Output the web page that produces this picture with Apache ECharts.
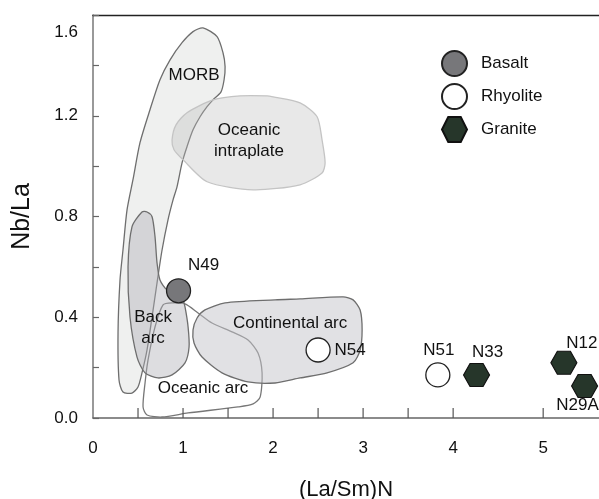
<!DOCTYPE html>
<html>
<head>
<meta charset="utf-8">
<script src="https://cdn.jsdelivr.net/npm/echarts@6/dist/echarts.min.js"></script>
<style>html,body{margin:0;padding:0;background:#fff;}#c{width:599px;height:499px;}</style>
</head>
<body>
<div id="c"></div>
<script>
// ---- data ----
const basalt = [[0.95, 0.505, 'N49']];
const rhyolite = [[2.50, 0.270, 'N54'], [3.83, 0.171, 'N51']];
const granite = [[4.26, 0.171, 'N33'], [5.23, 0.219, 'N12'], [5.46, 0.127, 'N29A']];

const xLabelValues = [0, 1, 2, 3, 4, 5];
const xTickValues = [0.5, 1, 1.5, 2, 2.5, 3, 3.5, 4, 5];
const yLabelValues = [0, 0.4, 0.8, 1.2, 1.6];

// discrimination fields (La/Sm)N , Nb/La outlines
const morbField = [[1.222,1.549],[1.378,1.514],[1.444,1.450],[1.467,1.395],[1.456,1.343],[1.422,1.295],[1.333,1.263],[1.267,1.236],[1.189,1.196],[1.111,1.144],[1.044,1.077],[0.989,1.013],[0.933,0.918],[0.889,0.866],[0.833,0.787],[0.767,0.667],[0.711,0.536],[0.656,0.401],[0.600,0.270],[0.544,0.179],[0.500,0.123],[0.433,0.099],[0.333,0.103],[0.289,0.151],[0.278,0.338],[0.300,0.548],[0.333,0.667],[0.378,0.826],[0.444,0.946],[0.522,1.093],[0.633,1.224],[0.744,1.343],[0.856,1.422],[0.989,1.490],[1.111,1.534]];
const intraplateField = [[0.878,1.104],[0.922,1.164],[1.044,1.212],[1.333,1.263],[1.633,1.279],[1.933,1.279],[2.000,1.275],[2.300,1.251],[2.489,1.196],[2.544,1.104],[2.578,1.013],[2.544,0.973],[2.300,0.926],[1.778,0.906],[1.267,0.938],[1.000,1.025],[0.900,1.065]];
const backArcField = [[0.544,0.818],[0.600,0.818],[0.656,0.799],[0.689,0.719],[0.711,0.616],[0.744,0.548],[0.822,0.509],[0.944,0.497],[1.000,0.469],[1.022,0.441],[1.056,0.362],[1.067,0.282],[1.022,0.219],[0.878,0.171],[0.722,0.159],[0.578,0.179],[0.489,0.242],[0.411,0.401],[0.389,0.600],[0.433,0.759]];
const contArcField = [[1.111,0.350],[1.156,0.397],[1.244,0.429],[1.467,0.457],[2.022,0.469],[2.300,0.473],[2.778,0.481],[2.889,0.469],[2.967,0.429],[2.989,0.350],[2.967,0.270],[2.889,0.219],[2.600,0.179],[2.300,0.159],[2.022,0.139],[1.722,0.143],[1.433,0.179],[1.211,0.242],[1.122,0.298]];
const oceanicArcField = [[0.878,0.457],[1.022,0.453],[1.167,0.417],[1.322,0.377],[1.544,0.342],[1.722,0.310],[1.833,0.258],[1.878,0.179],[1.856,0.083],[1.778,0.056],[1.611,0.044],[1.056,0.020],[0.767,0.004],[0.600,0.012],[0.556,0.044],[0.578,0.139],[0.611,0.230],[0.689,0.362],[0.778,0.449]];

const fieldLabels = [
  [1.122, 1.359, 'MORB'],
  [1.733, 1.100, 'Oceanic\nintraplate'],
  [0.667, 0.358, 'Back\narc'],
  [2.189, 0.377, 'Continental arc'],
  [1.222, 0.119, 'Oceanic arc']
];

// ---- styles ----
const FONT = '"Liberation Sans", Arial, Helvetica, sans-serif';
const hexPath = 'path://M0,50 L25,0 L75,0 L100,50 L75,100 L25,100 Z';
const labelOffsets = { N49:[25,-25], N54:[32,0], N51:[1,-25], N33:[11,-23], N12:[18,-20], N29A:[-7,19] };

function fieldSeries(pts, fill, stroke, z) {
  return {
    type: 'custom', coordinateSystem: 'cartesian2d', silent: true, z: z,
    data: pts,
    renderItem: function (params, api) {
      if (params.dataIndex !== 0) return null;
      const cs = pts.map(p => api.coord(p));
      return { type: 'polygon', shape: { points: cs, smooth: 0.25 },
        style: { fill: fill, stroke: stroke, lineWidth: 1.3 } };
    }
  };
}

function pointData(arr) {
  return arr.map(d => ({
    value: [d[0], d[1]], name: d[2],
    label: { show: true, formatter: d[2], position: 'inside', offset: labelOffsets[d[2]],
      color: '#111', fontSize: 17, fontFamily: FONT }
  }));
}

const chart = echarts.init(document.getElementById('c'), null, { renderer: 'canvas' });
chart.setOption({
  animation: false,
  backgroundColor: '#fff',
  grid: { left: 93, right: 0, top: 15, bottom: 81, containLabel: false, outerBoundsMode: 'none' },
  xAxis: [{
    type: 'value', min: 0, max: 5.62, interval: 1,
    name: '(La/Sm)N', nameLocation: 'middle', nameGap: 61,
    nameTextStyle: { fontSize: 22, color: '#111', fontFamily: FONT },
    axisLine: { show: true, lineStyle: { color: '#666', width: 1.5 } },
    axisTick: { show: false },
    splitLine: { show: false },
    axisLabel: { margin: 22, fontSize: 17, color: '#111', fontFamily: FONT, showMaxLabel: false,
      formatter: v => (xLabelValues.indexOf(Math.round(v * 100) / 100) >= 0 ? String(v) : '') }
  }, {
    type: 'value', position: 'top', min: 0, max: 5.62,
    axisLine: { show: true, onZero: false, lineStyle: { color: '#222', width: 1.3 } },
    axisTick: { show: false }, axisLabel: { show: false }, splitLine: { show: false }
  }],
  yAxis: {
    type: 'value', min: 0, max: 1.6, interval: 0.2,
    name: 'Nb/La', nameLocation: 'middle', nameGap: 58,
    nameTextStyle: { fontSize: 25, color: '#111', fontFamily: FONT },
    axisLine: { show: true, lineStyle: { color: '#777', width: 1.5 } },
    axisTick: { show: true, inside: true, length: 6, lineStyle: { color: '#666', width: 1.2 } },
    splitLine: { show: false },
    axisLabel: { margin: 15, fontSize: 17, color: '#111', fontFamily: FONT,
      formatter: function (v) {
        const r = Math.round(v * 10) / 10;
        const hit = yLabelValues.some(t => Math.abs(t - r) < 1e-6);
        if (!hit) return '';
        const s = r.toFixed(1);
        return Math.abs(r - 1.6) < 1e-6 ? '{top|' + s + '}' : s;
      },
      rich: { top: { fontSize: 17, color: '#111', fontFamily: FONT, padding: [34, 0, 0, 0] } }
    }
  },
  legend: {
    orient: 'vertical', left: 441, top: 50, padding: 0,
    itemWidth: 25, itemHeight: 25, itemGap: 6,
    textStyle: { fontSize: 17, color: '#111', fontFamily: FONT, padding: [0, 0, 0, 9] },
    data: ['Basalt', 'Rhyolite', 'Granite']
  },
  series: [
    fieldSeries(morbField, 'rgba(225,228,225,0.55)', '#6e6e6e', 1),
    fieldSeries(intraplateField, 'rgba(190,190,190,0.35)', '#c4c4c4', 2),
    fieldSeries(oceanicArcField, 'rgba(255,255,255,0)', '#777', 3),
    fieldSeries(backArcField, 'rgba(175,175,182,0.42)', '#6e6e6e', 4),
    fieldSeries(contArcField, 'rgba(195,195,202,0.5)', '#6e6e6e', 5),
    {
      type: 'custom', coordinateSystem: 'cartesian2d', silent: true, z: 6,
      data: fieldLabels,
      renderItem: function (params, api) {
        const p = api.coord([api.value(0), api.value(1)]);
        return { type: 'text', x: p[0], y: p[1],
          style: { text: fieldLabels[params.dataIndex][2], fill: '#111', fontSize: 17, fontFamily: FONT,
            align: 'center', verticalAlign: 'middle', lineHeight: 21 } };
      }
    },
    {
      type: 'custom', coordinateSystem: 'cartesian2d', silent: true, z: 6,
      data: xTickValues.map(v => [v, 0]),
      renderItem: function (params, api) {
        const p = api.coord([api.value(0), 0]);
        return { type: 'line', shape: { x1: p[0], y1: p[1], x2: p[0], y2: p[1] - 10 },
          style: { stroke: '#555', lineWidth: 1.2 } };
      }
    },
    {
      name: 'Basalt', type: 'scatter', z: 10, symbol: 'circle', symbolSize: 24,
      itemStyle: { color: '#77777a', borderColor: '#222', borderWidth: 1.3, opacity: 1 },
      data: pointData(basalt)
    },
    {
      name: 'Rhyolite', type: 'scatter', z: 10, symbol: 'circle', symbolSize: 24,
      itemStyle: { color: '#ffffff', borderColor: '#222', borderWidth: 1.3, opacity: 1 },
      data: pointData(rhyolite)
    },
    {
      name: 'Granite', type: 'scatter', z: 10, symbol: hexPath, symbolSize: [26, 23],
      itemStyle: { color: '#26362a', borderColor: '#111', borderWidth: 1.1, opacity: 1 },
      data: pointData(granite)
    }
  ]
});
</script>
</body>
</html>
